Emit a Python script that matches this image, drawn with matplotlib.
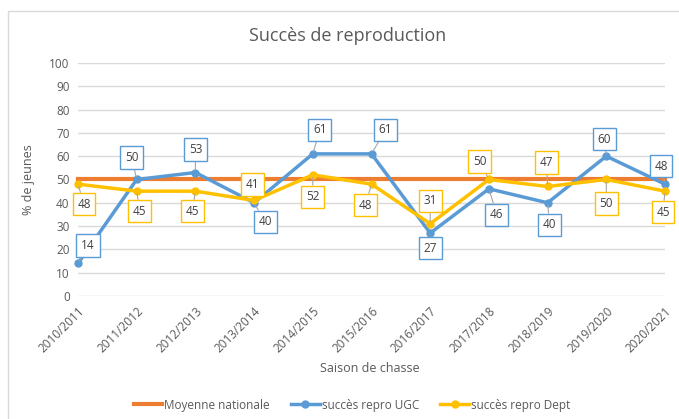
import numpy as np
import matplotlib.pyplot as plt
from matplotlib.patches import Rectangle

plt.rcParams['font.family'] = ['Open Sans', 'DejaVu Sans']

saisons = ['2010/2011', '2011/2012', '2012/2013', '2013/2014', '2014/2015', '2015/2016',
           '2016/2017', '2017/2018', '2018/2019', '2019/2020', '2020/2021']
moyenne_nationale = [50] * 11
repro_ugc = [14, 50, 53, 40, 61, 61, 27, 46, 40, 60, 48]
repro_dept = [48, 45, 45, 41, 52, 48, 31, 50, 47, 50, 45]

# label offsets in pixels (dx, dy), dy positive = up
off_ugc = [(10, 18), (-5, 22), (0, 23), (11, -19), (7, 24), (14, 24), (0, -15), (8, -26), (2, -22), (-2, 17), (-4, 18)]
off_dept = [(6, -20), (3, -20), (-3, -20), (-2, 16), (0, -22), (-6, -21), (0, 23), (-9, 18), (-1, 24), (0, -24), (-2, -21)]

c_orange = '#ED7D31'
c_blue = '#5B9BD5'
c_yellow = '#FFC000'
txt = '#595959'

fig = plt.figure(figsize=(6.79, 4.19), dpi=100)
ax = fig.add_axes([78 / 679, 1 - 296 / 419, 587 / 679, 233 / 419])
fig.patches.append(Rectangle((8 / 679, -0.01), 1.0, 1 - 11 / 419 + 0.01, transform=fig.transFigure,
                             fill=False, ec='#D9D9D9', lw=1))

x = np.arange(len(saisons))
ax.plot(x, moyenne_nationale, color=c_orange, lw=3, label='Moyenne nationale', clip_on=False, zorder=3)
ax.plot(x, repro_ugc, color=c_blue, lw=2.5, marker='o', ms=5, label='succès repro UGC', clip_on=False, zorder=4)
ax.plot(x, repro_dept, color=c_yellow, lw=2.5, marker='o', ms=5, label='succès repro Dept', clip_on=False, zorder=4)

for vals, offs, col in [(repro_ugc, off_ugc, c_blue), (repro_dept, off_dept, c_yellow)]:
    for xi, v, (dx, dy) in zip(x, vals, offs):
        ax.annotate(str(v), (xi, v), xytext=(dx, dy), textcoords='offset pixels',
                    ha='center', va='center', fontsize=8.5, color='#404040',
                    bbox=dict(boxstyle='square,pad=0.4', fc='white', ec=col, lw=1),
                    arrowprops=dict(arrowstyle='-', color='#A6A6A6', lw=0.8, shrinkA=0, shrinkB=2),
                    zorder=6, annotation_clip=False)

ax.set_xlim(0, 10)
ax.set_ylim(0, 100)
ax.set_yticks(range(0, 101, 10))
ax.set_xticks(x)
ax.set_xticklabels(saisons, rotation=45, ha='right', rotation_mode='anchor')
ax.tick_params(length=0, labelsize=8.5, labelcolor=txt, pad=6)
ax.grid(axis='y', color='#D9D9D9', lw=1)
ax.set_axisbelow(True)
for s in ax.spines.values():
    s.set_visible(False)

ax.set_ylabel('% de jeunes', fontsize=9, color=txt, labelpad=10)
fig.text(370 / 679, 1 - 368 / 419, 'Saison de chasse', ha='center', va='center', fontsize=9, color=txt)
fig.text(348 / 679, 1 - 36 / 419, 'Succès de reproduction', ha='center', va='center', fontsize=13, color=txt)

fig.legend(loc='center', bbox_to_anchor=(352 / 679, 1 - 405 / 419), ncol=3, frameon=False,
           fontsize=8.5, labelcolor=txt, handlelength=2.4, columnspacing=1.8, handletextpad=0.2)

fig.savefig('out.png', dpi=100)
